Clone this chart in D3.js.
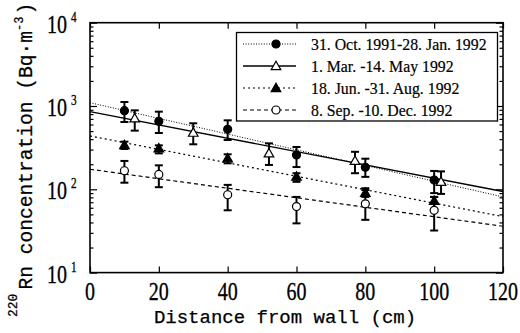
<!DOCTYPE html>
<html><head><meta charset="utf-8">
<script src="https://cdn.jsdelivr.net/npm/d3@7"></script>
<style>body{margin:0;background:#fff}svg{display:block}</style>
</head><body><svg id="c" width="520" height="333"></svg>
<script>
// ---- data ----
const xTicks = [0, 20, 40, 60, 80, 100, 120];
const yMajor = [10, 100, 1000, 10000];
const yExp = ["1", "2", "3", "4"];
const seriesNames = ["31. Oct. 1991-28. Jan. 1992", "1. Mar. -14. May 1992", "18. Jun. -31. Aug. 1992", "8. Sep. -10. Dec. 1992"];

const s1X = [10, 20, 40, 60, 80, 100];
const s1Y = [879, 655, 525, 258, 184, 129];
const s1Lo = [643, 474, 391, 185, 141, 90];
const s1Hi = [1117, 855, 673, 322, 233, 166];

const s2X = [13, 30, 52, 77, 102];
const s2Y = [711, 479, 270, 220, 123];
const s2Lo = [506, 347, 196, 156, 88];
const s2Hi = [887, 620, 356, 282, 164];

const s3X = [10, 20, 40, 60, 80, 100];
const s3Y = [340, 310, 236, 142, 91, 73];
const s3Lo = [305, 270, 205, 123, 81, 54];
const s3Hi = [373, 337, 263, 156, 103, 81];

const s4X = [10, 20, 40, 60, 80, 100];
const s4Y = [167, 151, 86, 62, 67, 56];
const s4Lo = [120, 106, 56, 39, 43, 32];
const s4Hi = [219, 194, 113, 81, 98, 81];

// fitted exponential lines (values at x=0 and x=120)
const fitX = [0, 120];
const fit1 = [1096, 81];
const fit2 = [855, 94];
const fit3 = [437, 47];
const fit4 = [174, 36];

// ---- drawing ----
const svg = d3.select("#c");
const L = 90, R = 503, T = 22.7, B = 272.6;
const x = d3.scaleLinear().domain([0, 120]).range([L, R]);
const y = d3.scaleLog().domain([10, 10000]).range([B, T]);

const styles = [
  {dash: "1,1.6", w: 1, marker: "circle", fill: "#000"},
  {dash: null, w: 1.4, marker: "triangle", fill: "#fff"},
  {dash: "2,3", w: 1.2, marker: "triangle", fill: "#000"},
  {dash: "4,3", w: 1.2, marker: "circle", fill: "#fff"}
];
const series = [
  {xs: s1X, ys: s1Y, lo: s1Lo, hi: s1Hi, fit: fit1},
  {xs: s2X, ys: s2Y, lo: s2Lo, hi: s2Hi, fit: fit2},
  {xs: s3X, ys: s3Y, lo: s3Lo, hi: s3Hi, fit: fit3},
  {xs: s4X, ys: s4Y, lo: s4Lo, hi: s4Hi, fit: fit4}
];

// axes with inward ticks
const yTickVals = y.ticks();
function styleAxis(g) {
  g.select(".domain").remove();
  g.selectAll("line").attr("stroke", "#000").attr("stroke-width", 1.2);
}
svg.append("g").attr("transform", `translate(0,${B})`)
  .call(d3.axisBottom(x).tickValues(xTicks).tickSize(-6).tickFormat(""))
  .call(styleAxis);
svg.append("g").attr("transform", `translate(0,${T})`)
  .call(d3.axisTop(x).tickValues(xTicks).tickSize(-6).tickFormat(""))
  .call(styleAxis);
svg.append("g").attr("transform", `translate(${L},0)`)
  .call(d3.axisLeft(y).tickValues(yTickVals).tickFormat(""))
  .call(styleAxis)
  .selectAll(".tick line").attr("x2", d => yMajor.includes(d) ? 7 : 3.5);
svg.append("g").attr("transform", `translate(${R},0)`)
  .call(d3.axisRight(y).tickValues(yTickVals).tickFormat(""))
  .call(styleAxis)
  .selectAll(".tick line").attr("x2", d => yMajor.includes(d) ? -7 : -3.5);

// frame
svg.append("rect").attr("x", L).attr("y", T).attr("width", R - L).attr("height", B - T)
  .attr("fill", "none").attr("stroke", "#000").attr("stroke-width", 1.6);

// x tick labels
svg.append("g").selectAll("text").data(xTicks).join("text")
  .attr("transform", d => `translate(${x(d)},${B + 27.5}) scale(0.8,1)`)
  .attr("text-anchor", "middle")
  .attr("font-family", "Liberation Serif").attr("font-size", 25)
  .attr("stroke", "#000").attr("stroke-width", 0.3)
  .text(d => d);

// y tick labels
const yl = svg.append("g").selectAll("text").data(yMajor).join("text")
  .attr("transform", d => `translate(47,${y(d) + 10}) scale(0.8,1)`)
  .attr("font-family", "Liberation Serif").attr("font-size", 25)
  .attr("stroke", "#000").attr("stroke-width", 0.3);
yl.append("tspan").text("10");
yl.append("tspan").attr("dx", 5).attr("dy", -11).attr("font-size", 14).text((d, i) => yExp[i]);

// axis titles
svg.append("text").attr("x", 285).attr("y", 323).attr("text-anchor", "middle")
  .attr("font-family", "Liberation Mono").attr("font-size", 19)
  .attr("stroke", "#000").attr("stroke-width", 0.25)
  .text("Distance from wall (cm)");

const yt = svg.append("text").attr("transform", "translate(32,317) rotate(-90)")
  .attr("font-family", "Liberation Mono").attr("font-size", 19.6)
  .attr("stroke", "#000").attr("stroke-width", 0.25);
yt.append("tspan").attr("font-size", 13).attr("dy", -15).text("220");
yt.append("tspan").attr("dy", 15).attr("dx", 4).text("Rn concentration (Bq\u00b7m");
yt.append("tspan").attr("font-size", 12).attr("dy", -9).text("-3");
yt.append("tspan").attr("dy", 9).attr("dx", 2).text(")");

// fit lines
const line = d3.line().x(d => x(d[0])).y(d => y(d[1]));
const plot = svg.append("g");
series.forEach((s, i) => {
  plot.append("path").datum(fitX.map((v, k) => [v, s.fit[k]]))
    .attr("d", line).attr("fill", "none").attr("stroke", "#000")
    .attr("stroke-width", styles[i].w)
    .attr("stroke-dasharray", styles[i].dash);
});

// markers
function marker(g, st, cx, cy) {
  if (st.marker === "circle") {
    g.append("circle").attr("cx", cx).attr("cy", cy).attr("r", 4)
      .attr("fill", st.fill).attr("stroke", "#000").attr("stroke-width", 1.2);
  } else {
    const s = 4.8;
    g.append("path").attr("d", `M${cx},${cy - s}L${cx + s},${cy + s * 0.75}L${cx - s},${cy + s * 0.75}Z`)
      .attr("fill", st.fill).attr("stroke", "#000").attr("stroke-width", 1.2);
  }
}

// error bars + points
series.forEach((s, i) => {
  const g = plot.append("g");
  s.xs.forEach((xv, k) => {
    const cx = x(xv);
    g.append("line").attr("x1", cx).attr("x2", cx).attr("y1", y(s.lo[k])).attr("y2", y(s.hi[k]))
      .attr("stroke", "#000").attr("stroke-width", 2);
    [s.lo[k], s.hi[k]].forEach(v => {
      g.append("line").attr("x1", cx - 4).attr("x2", cx + 4).attr("y1", y(v)).attr("y2", y(v))
        .attr("stroke", "#000").attr("stroke-width", 2);
    });
  });
});
series.forEach((s, i) => {
  const g = plot.append("g");
  s.xs.forEach((xv, k) => marker(g, styles[i], x(xv), y(s.ys[k])));
});

// legend
const lg = svg.append("g");
lg.append("rect").attr("x", 236.5).attr("y", 32.5).attr("width", 261).attr("height", 88.5)
  .attr("fill", "#fff").attr("stroke", "#000").attr("stroke-width", 1.3);
seriesNames.forEach((name, i) => {
  const ry = 44 + i * 22;
  lg.append("line").attr("x1", 243).attr("x2", 296).attr("y1", ry).attr("y2", ry)
    .attr("stroke", "#000").attr("stroke-width", styles[i].w)
    .attr("stroke-dasharray", styles[i].dash);
  marker(lg, styles[i], 276, ry);
  lg.append("text").attr("transform", `translate(311,${ry + 6}) scale(0.93,1)`)
    .attr("font-family", "Liberation Serif").attr("font-size", 17)
    .attr("stroke", "#000").attr("stroke-width", 0.2)
    .text(name);
});
</script></body></html>
